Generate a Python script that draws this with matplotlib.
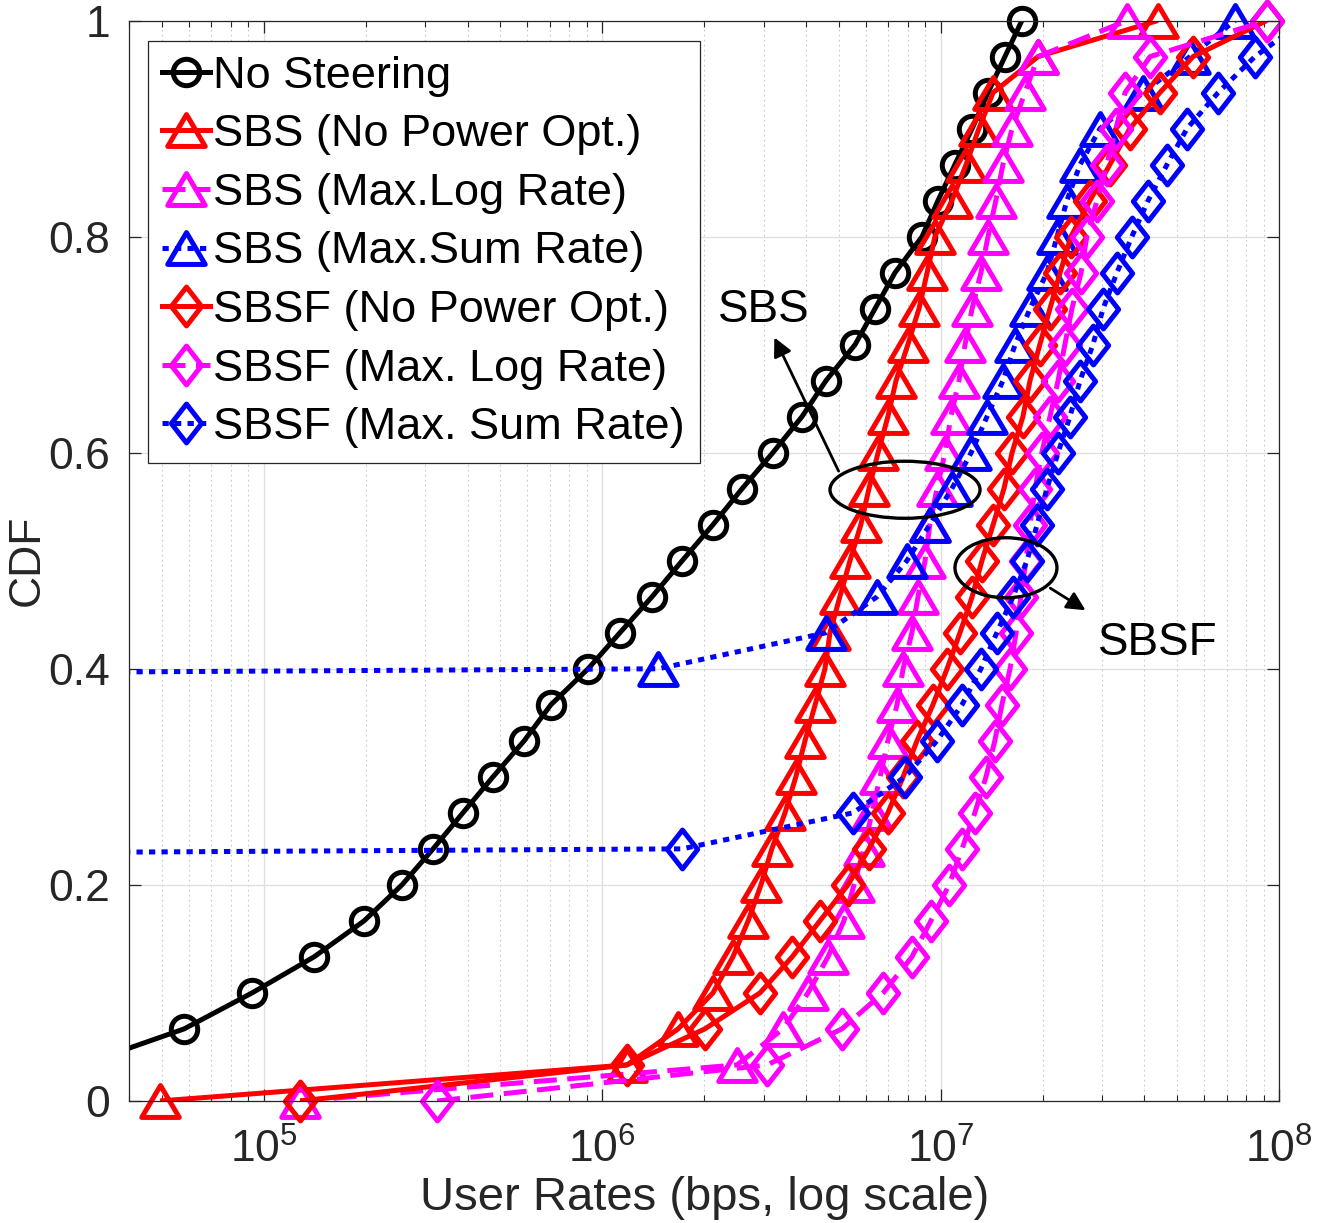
import numpy as np
import matplotlib
matplotlib.use("Agg")
import matplotlib.pyplot as plt
from matplotlib.lines import Line2D
from matplotlib.patches import Ellipse
from matplotlib.path import Path

plt.rcParams['font.family'] = ['Liberation Sans', 'DejaVu Sans']
plt.rcParams['mathtext.fontset'] = 'custom'
plt.rcParams['mathtext.rm'] = 'Liberation Sans'

# ── Data: user rates (log10 bps) at CDF levels k/30, k = 0..30 ──────────────
# -12 stands for users with (practically) zero rate, off the left of the axis
cdf_levels = np.arange(31) / 30.0

no_steering_log = [4.30, 4.460, 4.764, 4.965, 5.148, 5.296, 5.408, 5.500, 5.588, 5.677,
                   5.769, 5.848, 5.958, 6.052, 6.147, 6.236, 6.327, 6.413, 6.504, 6.590,
                   6.661, 6.747, 6.806, 6.865, 6.945, 6.992, 7.042, 7.093, 7.140, 7.190,
                   7.240]
sbs_nopow_log = [4.693, 6.073, 6.224, 6.327, 6.386, 6.431, 6.469, 6.501, 6.540, 6.572,
                 6.599, 6.629, 6.658, 6.673, 6.702, 6.732, 6.764, 6.788, 6.815, 6.844,
                 6.868, 6.903, 6.936, 6.960, 6.983, 7.033, 7.075, 7.113, 7.155, 7.288,
                 7.642]
sbs_maxlog_log = [5.107, 6.398, 6.534, 6.608, 6.667, 6.714, 6.744, 6.773, 6.797, 6.821,
                  6.844, 6.871, 6.889, 6.915, 6.933, 6.954, 6.968, 6.989, 7.013, 7.030,
                  7.054, 7.072, 7.093, 7.119, 7.140, 7.163, 7.184, 7.211, 7.249, 7.288,
                  7.551]
sbs_maxsum_log = [-12, -12, -12, -12, -12, -12, -12, -12, -12, -12,
                  -12, -12, 6.165, 6.661, 6.812, 6.900, 6.968, 7.033, 7.090, 7.137,
                  7.184, 7.220, 7.264, 7.314, 7.344, 7.373, 7.412, 7.471, 7.598, 7.737,
                  7.870]
sbsf_nopow_log = [5.107, 6.073, 6.303, 6.466, 6.561, 6.643, 6.726, 6.788, 6.844, 6.889,
                  6.930, 6.977, 7.019, 7.057, 7.093, 7.122, 7.155, 7.187, 7.211, 7.243,
                  7.264, 7.293, 7.323, 7.353, 7.385, 7.441, 7.500, 7.559, 7.648, 7.746,
                  7.964]
sbsf_maxlog_log = [5.512, 6.487, 6.708, 6.830, 6.915, 6.971, 7.025, 7.063, 7.101, 7.134,
                   7.160, 7.181, 7.205, 7.223, 7.237, 7.252, 7.264, 7.279, 7.299, 7.323,
                   7.347, 7.367, 7.388, 7.415, 7.432, 7.462, 7.491, 7.518, 7.545, 7.619,
                   7.964]
sbsf_maxsum_log = [-12, -12, -12, -12, -12, -12, -12, 6.236, 6.741, 6.895,
                   6.989, 7.063, 7.119, 7.166, 7.214, 7.255, 7.285, 7.314, 7.347, 7.382,
                   7.412, 7.450, 7.480, 7.521, 7.565, 7.613, 7.669, 7.728, 7.820, 7.929,
                   8.074]

labels = ['No Steering', 'SBS (No Power Opt.)', 'SBS (Max.Log Rate)',
          'SBS (Max.Sum Rate)', 'SBSF (No Power Opt.)', 'SBSF (Max. Log Rate)',
          'SBSF (Max. Sum Rate)']
series = [no_steering_log, sbs_nopow_log, sbs_maxlog_log, sbs_maxsum_log,
          sbsf_nopow_log, sbsf_maxlog_log, sbsf_maxsum_log]

# ── Styles ────────────────────────────────────────────────────────────────────
tri = Path([(-1, -0.85), (1, -0.85), (0, 0.85), (-1, -0.85)],
           [Path.MOVETO, Path.LINETO, Path.LINETO, Path.CLOSEPOLY])
dia = Path([(0, 1), (0.78, 0), (0, -1), (-0.78, 0), (0, 1)],
           [Path.MOVETO, Path.LINETO, Path.LINETO, Path.LINETO, Path.CLOSEPOLY])

DASH = (4.6, 2.1)
DOT = (1.25, 1.25)
styles = [
    dict(color='black', marker='o', ms=19, dashes=None),
    dict(color='#ff0000', marker=tri, ms=27, dashes=None),
    dict(color='#ff00ff', marker=tri, ms=27, dashes=DASH),
    dict(color='#0000ff', marker=tri, ms=27, dashes=DOT),
    dict(color='#ff0000', marker=dia, ms=28, dashes=None),
    dict(color='#ff00ff', marker=dia, ms=28, dashes=DASH),
    dict(color='#0000ff', marker=dia, ms=28, dashes=DOT),
]
LW = 3.6
MEW = 3.6
XLIM = (4e4, 1e8)

fig = plt.figure(figsize=(13.19, 12.23), dpi=100, facecolor='white')
ax = fig.add_axes([0.0980, 0.0998, 0.8717, 0.8834])

handles = []
for vals, st, lab in zip(series, styles, labels):
    x = 10.0 ** np.array(vals)
    y = cdf_levels
    kw = dict(color=st['color'], lw=LW)
    if st['dashes'] is not None:
        kw['dashes'] = st['dashes']
    ax.plot(x, y, solid_capstyle='butt', **kw)
    inside = (x >= XLIM[0]) & (x <= XLIM[1])
    ax.plot(x[inside], y[inside], ls='none', marker=st['marker'],
            ms=st['ms'], mew=MEW, mfc='none', mec=st['color'], clip_on=False)
    handles.append(Line2D([], [], marker=st['marker'], ms=st['ms'], mew=MEW,
                          mfc='none', mec=st['color'], **kw))

ax.set_xscale('log')
ax.set_xlim(*XLIM)
ax.set_ylim(0, 1)
ax.set_yticks([0, 0.2, 0.4, 0.6, 0.8, 1])
ax.set_yticklabels(['0', '0.2', '0.4', '0.6', '0.8', '1'])
ax.set_xticks([1e5, 1e6, 1e7, 1e8])

ax.grid(True, which='major', color='#dedede', lw=0.9)
ax.grid(True, which='minor', axis='x', color='#c8c8c8', lw=0.8, ls=(0, (1.5, 3)))
ax.set_axisbelow(True)

for s in ax.spines.values():
    s.set_color('#262626')
    s.set_linewidth(0.9)
ax.tick_params(which='both', direction='in', top=True, right=True,
               colors='#262626', labelsize=32)
ax.tick_params(which='major', length=8.5, width=0.9)
ax.tick_params(which='minor', length=4.3, width=0.8)
ax.tick_params(axis='y', pad=14)
ax.tick_params(axis='x', pad=20)

ax.set_xlabel('User Rates (bps, log scale)', fontsize=34, color='#262626', labelpad=3)
ax.set_ylabel('CDF', fontsize=32, color='#262626', labelpad=0)

leg = ax.legend(handles, labels, loc='upper left', bbox_to_anchor=(0.0163, 0.981),
                borderaxespad=0, fontsize=32.5, fancybox=False, framealpha=1,
                edgecolor='#262626', handlelength=1.05, handletextpad=0.08,
                labelspacing=0.39, borderpad=0.32)
leg.get_frame().set_linewidth(0.9)

# ── Annotations ───────────────────────────────────────────────────────────────
ax.add_patch(Ellipse((0.6747, 0.5657), 0.1305, 0.0528, transform=ax.transAxes,
                     fill=False, ec='black', lw=2.4, zorder=5))
ax.add_patch(Ellipse((0.7625, 0.4935), 0.0887, 0.0556, transform=ax.transAxes,
                     fill=False, ec='black', lw=2.4, zorder=5))
ax.annotate('', xy=(0.560, 0.709), xytext=(0.618, 0.5806),
            xycoords='axes fraction', textcoords='axes fraction',
            arrowprops=dict(arrowstyle='-|>', color='black', lw=2.0,
                            mutation_scale=28), zorder=5)
ax.annotate('', xy=(0.8338, 0.4528), xytext=(0.799, 0.476),
            xycoords='axes fraction', textcoords='axes fraction',
            arrowprops=dict(arrowstyle='-|>', color='black', lw=2.0,
                            mutation_scale=28), zorder=5)
ax.text(0.5515, 0.7324, 'SBS', transform=ax.transAxes, fontsize=33,
        ha='center', va='center')
ax.text(0.8947, 0.424, 'SBSF', transform=ax.transAxes, fontsize=33,
        ha='center', va='center')

fig.savefig('out.png', dpi=100, facecolor='white')
